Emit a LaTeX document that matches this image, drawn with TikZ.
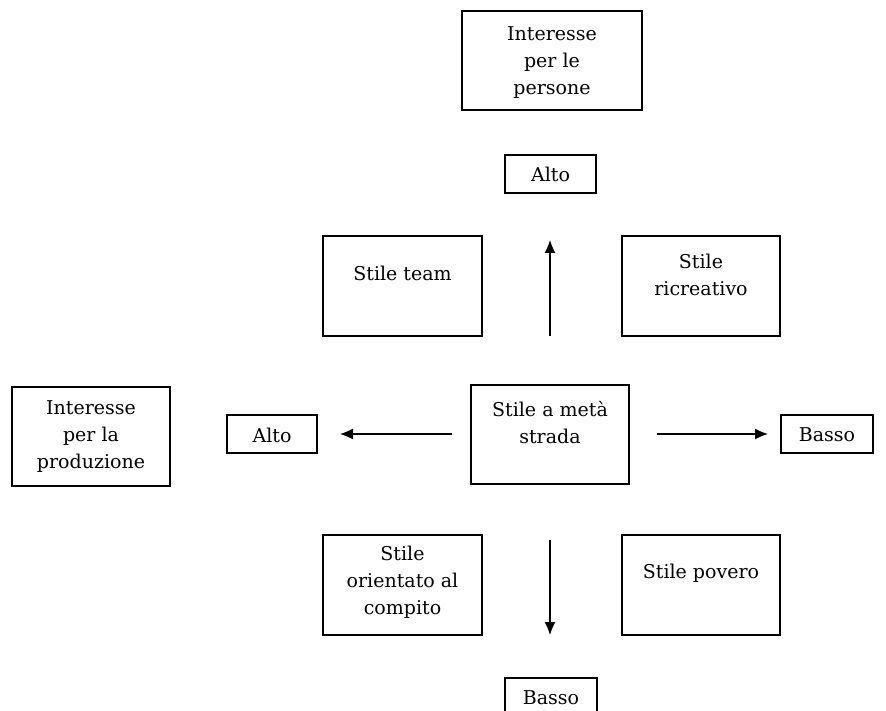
\documentclass[tikz,border=0pt]{standalone}
\usepackage{fontspec}
\setmainfont{DejaVu Serif}
\usetikzlibrary{arrows.meta}
\tikzset{
  box/.style={draw, line width=1.2pt, inner sep=0pt},
  lbl/.style={align=center, inner sep=0pt, font=\fontsize{19}{27}\selectfont},
  arr/.style={line width=1.3pt, -{Latex[length=13pt,width=11pt]}}
}
\begin{document}
\begin{tikzpicture}[x=1pt,y=-1pt]
\useasboundingbox (0,0) rectangle (886,711);
% boxes
\node[box, minimum width=180pt, minimum height=99pt] (top) at (552,60.5) {};
\node[box, minimum width=91pt, minimum height=38pt] (altoT) at (550.5,174) {};
\node[box, minimum width=159pt, minimum height=100pt] (team) at (402.5,286) {};
\node[box, minimum width=158pt, minimum height=100pt] (ricr) at (701,286) {};
\node[box, minimum width=158pt, minimum height=99pt] (prod) at (91,436.5) {};
\node[box, minimum width=90pt, minimum height=38pt] (altoL) at (272,434) {};
\node[box, minimum width=158pt, minimum height=99pt] (mid) at (550,434.5) {};
\node[box, minimum width=92pt, minimum height=38pt] (bassoR) at (827,434) {};
\node[box, minimum width=159pt, minimum height=100pt] (orient) at (402.5,585) {};
\node[box, minimum width=158pt, minimum height=100pt] (pov) at (701,585) {};
\begin{scope}
\clip (0,0) rectangle (886,711);
\node[box, minimum width=92pt, minimum height=40pt] (bassoB) at (551,698) {};
\end{scope}
% texts
\node[lbl] (tTop) at (552,63) {Interesse\\per le\\persone};
\node[lbl] (tAltoT) at (550.5,174) {Alto};
\node[lbl] (tTeam) at (402.5,273) {Stile team};
\node[lbl] (tRicr) at (701,275) {Stile\\ricreativo};
\node[lbl] (tProd) at (91,437) {Interesse\\per la\\produzione};
\node[lbl] (tAltoL) at (272,435) {Alto};
\node[lbl] (tMid) at (550,423) {Stile a metà\\strada};
\node[lbl] (tBassoR) at (827,435) {Basso};
\node[lbl] (tOrient) at (402.5,582) {Stile\\orientato al\\compito};
\node[lbl] (tPov) at (701,573) {Stile povero};
\node[lbl] (tBassoB) at (551,698) {Basso};
% arrows
\coordinate (upS) at (550,336);
\coordinate (upE) at (550,240);
\coordinate (lS) at (452,434);
\coordinate (lE) at (340,434);
\coordinate (rS) at (657,434);
\coordinate (rE) at (768,434);
\coordinate (dS) at (550,540);
\coordinate (dE) at (550,635);
\draw[arr] (upS) -- (upE);
\draw[arr] (lS) -- (lE);
\draw[arr] (rS) -- (rE);
\draw[arr] (dS) -- (dE);
\end{tikzpicture}
\end{document}
